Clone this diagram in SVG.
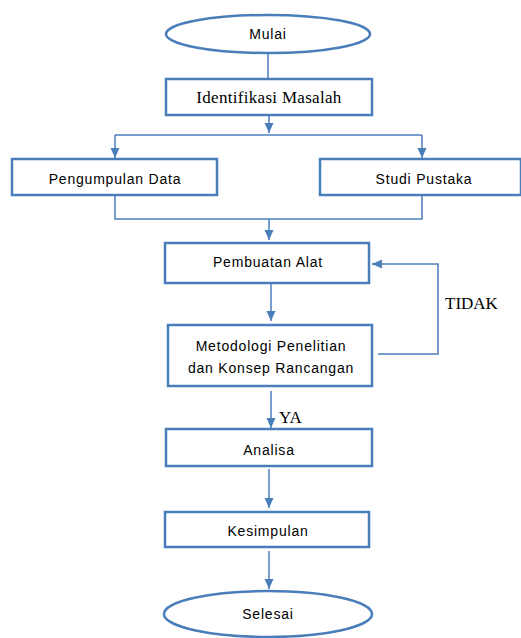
<svg xmlns="http://www.w3.org/2000/svg" width="521" height="638" viewBox="0 0 521 638">
<style>
.box{fill:#fff;stroke:#4a7ebb;stroke-width:2.5}
.ln{fill:none;stroke:#4a7ebb;stroke-width:1.5}
.sans{font-family:"Liberation Sans",Arial,sans-serif;font-size:14px;fill:#000;text-anchor:middle;letter-spacing:0.8px}
.serif{font-family:"Liberation Serif","Times New Roman",serif;font-size:17px;fill:#000}
</style>
<defs>
<marker id="ah" markerUnits="userSpaceOnUse" markerWidth="10" markerHeight="10" viewBox="0 0 10 10" refX="10" refY="5" orient="auto">
<path d="M0,0.5 L10,5 L0,9.5 Z" fill="#4a7ebb"/>
</marker>
</defs>
<rect width="521" height="638" fill="#fff"/>
<g id="connectors">
<path class="ln" d="M268,53 V79"/>
<path class="ln" d="M269,115 V133" marker-end="url(#ah)"/>
<path class="ln" d="M115,135 H422"/>
<path class="ln" d="M115,135 V158" marker-end="url(#ah)"/>
<path class="ln" d="M422,135 V158" marker-end="url(#ah)"/>
<path class="ln" d="M115,195 V219 H422 V195"/>
<path class="ln" d="M269,219 V240" marker-end="url(#ah)"/>
<path class="ln" d="M271,283 V321" marker-end="url(#ah)"/>
<path class="ln" d="M378,354 H438 V264 H372" marker-end="url(#ah)"/>
<path class="ln" d="M271,391 V428" marker-end="url(#ah)"/>
<path class="ln" d="M269,469 V508" marker-end="url(#ah)"/>
<path class="ln" d="M269,551 V589" marker-end="url(#ah)"/>
</g>
<g id="label-tidak"><text class="serif" x="445" y="309">TIDAK</text></g>
<g id="label-ya"><text class="serif" x="279" y="423">YA</text></g>
<g id="mulai">
<ellipse class="box" cx="268" cy="34" rx="102" ry="19"/>
<text class="sans" x="268" y="39">Mulai</text>
</g>
<g id="identifikasi">
<rect class="box" x="166" y="79" width="206" height="36"/>
<text class="serif" x="269" y="103" text-anchor="middle" font-size="18" letter-spacing="0.3">Identifikasi Masalah</text>
</g>
<g id="pengumpulan">
<rect class="box" x="12" y="159" width="205" height="36"/>
<text class="sans" x="115" y="184">Pengumpulan Data</text>
</g>
<g id="studi">
<rect class="box" x="320" y="159" width="201" height="36"/>
<text class="sans" x="424" y="184">Studi Pustaka</text>
</g>
<g id="pembuatan">
<rect class="box" x="165" y="243" width="204" height="40"/>
<text class="sans" x="268" y="267">Pembuatan Alat</text>
</g>
<g id="metodologi">
<rect class="box" x="168" y="325" width="204" height="61"/>
<text class="sans" x="271" y="351">Metodologi Penelitian</text>
<text class="sans" x="271" y="373">dan Konsep Rancangan</text>
</g>
<g id="analisa">
<rect class="box" x="166" y="429" width="206" height="37"/>
<text class="sans" x="269" y="455">Analisa</text>
</g>
<g id="kesimpulan">
<rect class="box" x="165" y="512" width="204" height="35"/>
<text class="sans" x="268" y="536">Kesimpulan</text>
</g>
<g id="selesai">
<ellipse class="box" cx="268" cy="614" rx="104" ry="23"/>
<text class="sans" x="268" y="619">Selesai</text>
</g>
</svg>
